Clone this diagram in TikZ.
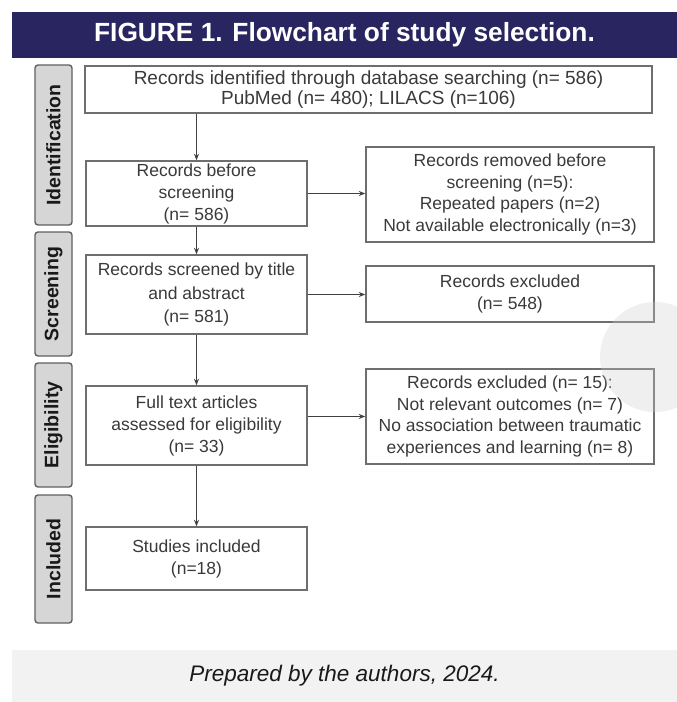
\documentclass[tikz,border=0pt]{standalone}
\usepackage{fontspec}
\setmainfont{Liberation Sans}
\usetikzlibrary{arrows.meta}
\definecolor{navy}{HTML}{282561}
\definecolor{boxline}{HTML}{6E6E6E}
\definecolor{txt}{HTML}{3A3A3A}
\definecolor{tabfill}{HTML}{D6D6D6}
\definecolor{tabline}{HTML}{606060}
\definecolor{capfill}{HTML}{F2F2F2}
\tikzset{
  flowbox/.style={draw=boxline, line width=1.4pt, fill=white, inner sep=0pt, align=center,
    text=txt, font=\fontsize{17.5}{22}\selectfont},
  tabbox/.style={draw=tabline, line width=1.4pt, fill=tabfill, rounded corners=3pt, inner sep=0pt,
    rotate=90, minimum height=37pt, font=\fontsize{19.5}{22}\selectfont\bfseries, text=black!90},
  flowarrow/.style={draw=black!75, line width=1.2pt, -{Stealth[length=6.5pt,width=5pt]}},
}
\begin{document}
\begin{tikzpicture}[x=1pt,y=-1pt]
\useasboundingbox (0,0) rectangle (677,702);
% title bar
\node[fill=navy, minimum width=665pt, minimum height=46pt, inner sep=0pt, text=white,
  font=\fontsize{26.3}{30}\selectfont\bfseries] (title) at (344.5,35) {FIGURE 1. Flowchart of study selection.};
% stage tabs
\node[tabbox, minimum width=160pt] (tabid) at (53.5,145) {Identification};
\node[tabbox, minimum width=124pt] (tabsc) at (53.5,294) {Screening};
\node[tabbox, minimum width=124pt] (tabel) at (53.5,425) {Eligibility};
\node[tabbox, minimum width=128pt] (tabin) at (53.5,559) {Included};
% boxes
\node[flowbox, minimum width=567pt, minimum height=47pt, font=\fontsize{19}{20.5}\selectfont] (top) at (368.5,89.5)
  {Records identified through database searching (n= 586)\\PubMed (n= 480); LILACS (n=106)};
\node[flowbox, minimum width=221pt, minimum height=65pt] (before) at (196.5,193.5)
  {Records before\\screening\\(n= 586)};
\node[flowbox, minimum width=288pt, minimum height=95pt, font=\fontsize{17.5}{21.7}\selectfont] (removed) at (510,194.5)
  {Records removed before\\screening (n=5):\\Repeated papers (n=2)\\Not available electronically (n=3)};
\node[flowbox, minimum width=221pt, minimum height=79pt, font=\fontsize{17.5}{23.5}\selectfont] (screened) at (196.5,294.5)
  {Records screened by title\\and abstract\\(n= 581)};
\node[flowbox, minimum width=288pt, minimum height=56pt] (excluded) at (510,294)
  {Records excluded\\(n= 548)};
\node[flowbox, minimum width=221pt, minimum height=79pt] (fulltext) at (196.5,425.5)
  {Full text articles\\assessed for eligibility\\(n= 33)};
\node[flowbox, minimum width=288pt, minimum height=95pt, font=\fontsize{17.5}{21.7}\selectfont] (excl15) at (510,416.5)
  {Records excluded (n= 15):\\Not relevant outcomes (n= 7)\\No association between traumatic\\experiences and learning (n= 8)};
\node[flowbox, minimum width=221pt, minimum height=63pt] (included) at (196.5,558.5)
  {Studies included\\(n=18)};
% connectors
\draw[flowarrow] (before.north |- top.south) -- (before.north);
\draw[flowarrow] (before.south) -- (screened.north);
\draw[flowarrow] (screened.south) -- (fulltext.north);
\draw[flowarrow] (fulltext.south) -- (included.north);
\draw[flowarrow] (before.east) -- (before.east -| removed.west);
\draw[flowarrow] (screened.east) -- (screened.east -| excluded.west);
\draw[flowarrow] (excl15.west -| fulltext.east) -- (excl15.west);
% faint scan mark
\fill[gray!40, opacity=0.3] (655,357) circle (55pt);
% caption band
\node[fill=capfill, minimum width=665pt, minimum height=52pt, inner sep=0pt, text=black!90,
  font=\fontsize{22.5}{26}\selectfont\itshape] (caption) at (344.5,676) {Prepared by the authors, 2024.};
\end{tikzpicture}
\end{document}
